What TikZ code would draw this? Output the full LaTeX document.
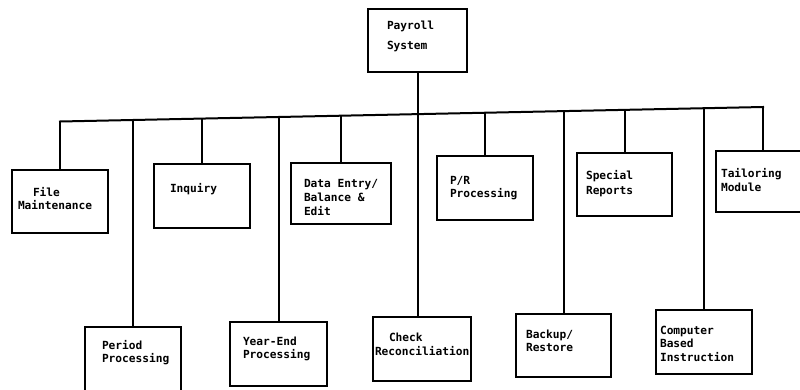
\documentclass[tikz,border=0pt]{standalone}
\usepackage{fontspec}
\newfontfamily\lblfont{DejaVu Sans Mono}
\usetikzlibrary{calc}
\tikzset{
  box/.style={draw, line width=2pt, inner sep=0pt, outer sep=0pt},
  link/.style={line width=2pt},
  lbl/.style={anchor=base west, align=left, inner sep=0pt, outer sep=0pt,
    font=\fontsize{11.2}{13.5}\selectfont\lblfont\bfseries}
}
\begin{document}
\begin{tikzpicture}[x=1pt,y=-1pt]
\useasboundingbox (0,0) rectangle (800,389);
% boxes
\node[box, minimum width=99pt, minimum height=63pt] (payroll) at (417.5,40.5) {};
\node[box, minimum width=96pt, minimum height=63pt] (fm)  at (60,201.5) {};
\node[box, minimum width=96pt, minimum height=64pt] (inq) at (202,196) {};
\node[box, minimum width=100pt, minimum height=61pt] (de) at (341,193.5) {};
\node[box, minimum width=96pt, minimum height=64pt] (pr)  at (485,188) {};
\node[box, minimum width=95pt, minimum height=63pt] (sr)  at (624.5,184.5) {};
\node[box, minimum width=94pt, minimum height=61pt] (tm)  at (763,181.5) {};
\node[box, minimum width=96pt, minimum height=73pt] (pp)  at (133,363.5) {};
\node[box, minimum width=97pt, minimum height=64pt] (ye)  at (278.5,354) {};
\node[box, minimum width=98pt, minimum height=64pt] (cr)  at (422,349) {};
\node[box, minimum width=95pt, minimum height=63pt] (br)  at (563.5,345.5) {};
\node[box, minimum width=96pt, minimum height=64pt] (cbi) at (704,342) {};
% labels (anchored at the baseline of their last line)
\node[lbl] (tpayroll) at (387,49) {Payroll\\[6.5pt]System};
\node[lbl] (tfm) at (18,209) {\hspace*{15pt}File\\[-0.5pt]Maintenance};
\node[lbl] (tinq) at (170,192) {Inquiry};
\node[lbl] (tde) at (304,215) {Data Entry/\\[0.5pt]Balance \&\\[0.5pt]Edit};
\node[lbl] (tpp) at (102,362) {Period\\[-0.5pt]Processing};
\node[lbl] (tye) at (243,358) {Year-End\\[-0.5pt]Processing};
\node[lbl] (tcr) at (375,355) {\hspace*{14pt}Check\\[0.5pt]Reconciliation};
\node[lbl] (tpr) at (450,197) {P/R\\[-0.5pt]Processing};
\node[lbl] (tbr) at (526,351) {Backup/\\[-0.5pt]Restore};
\node[lbl] (tsr) at (586,194) {Special\\[1.5pt]Reports};
\node[lbl] (tcbi) at (660,361) {Computer\\Based\\Instruction};
\node[lbl] (ttm) at (721,191) {Tailoring\\[0.5pt]Module};
% connectors
\coordinate (busL) at (60,121.5);
\coordinate (busR) at (763,107);
\draw[link, line cap=rect] (busL) -- (busR);
\draw[link] (payroll.south) -- (payroll.south |- cr.north);
\foreach \b in {fm,inq,de,pr,sr,tm,pp,ye,br,cbi}{
  \draw[link] let \p1=(\b.north), \p2=(busL), \p3=(busR) in
    (\p1) -- (\x1, {\y2+(\x1-\x2)*(\y3-\y2)/(\x3-\x2)});
}
\end{tikzpicture}
\end{document}
